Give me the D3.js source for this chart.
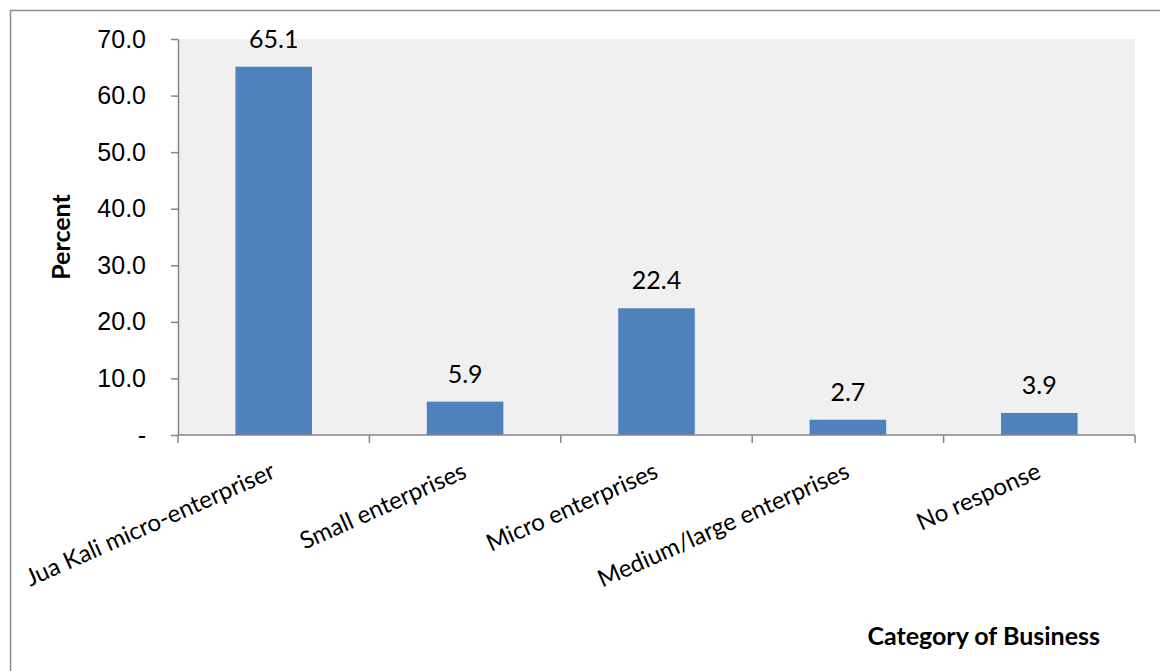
<!DOCTYPE html>
<html lang="en">
<head>
<meta charset="UTF-8"/>
<script src="https://cdnjs.cloudflare.com/ajax/libs/d3/7.8.5/d3.min.js"></script>
<style>
  body { margin: 0; background: #fff; }
  svg { display: block; font-family: Lato, 'Open Sans', sans-serif; }
  .axis path, .axis line { stroke: #868686; stroke-width: 1.5; }
  .axis text { font-size: 25px; fill: #000; }
  .axis text.cat { font-size: 24px; }
  text.value { font-size: 25px; fill: #000; }
  text.title { font-size: 25px; font-weight: 700; fill: #000; }
</style>
</head>
<body>
<svg width="1160" height="671"></svg>
<script>
// category of business vs percent
const categories = ['Jua Kali micro-enterpriser', 'Small enterprises', 'Micro enterprises', 'Medium/large enterprises', 'No response'];
const percents = [65.1, 5.9, 22.4, 2.7, 3.9];
const yTicks = [0, 10, 20, 30, 40, 50, 60, 70];

const svg = d3.select('svg');

// outer frame
svg.append('rect')
  .attr('x', 10.5).attr('y', 10.5)
  .attr('width', 1160).attr('height', 680)
  .attr('fill', 'none')
  .attr('stroke', '#8c8c8c')
  .attr('stroke-width', 1.5);

const plotLeft = 178, plotRight = 1135, plotTop = 39, plotBottom = 435;

const x = d3.scaleBand()
  .domain(categories)
  .range([plotLeft, plotRight])
  .paddingInner(0.6)
  .paddingOuter(0.3);

const xOuter = d3.scaleBand().domain(categories).range([plotLeft, plotRight]);

const y = d3.scaleLinear()
  .domain([0, 70])
  .range([plotBottom, plotTop]);

// plot background
svg.append('rect')
  .attr('x', plotLeft).attr('y', plotTop)
  .attr('width', plotRight - plotLeft).attr('height', plotBottom - plotTop)
  .attr('fill', '#f0f0f0');

svg.selectAll('rect.bar')
  .data(percents)
  .enter().append('rect')
  .attr('class', 'bar')
  .attr('x', (d, i) => x(categories[i]))
  .attr('y', d => y(d))
  .attr('width', x.bandwidth())
  .attr('height', d => y(0) - y(d))
  .attr('fill', '#4f81bd');

svg.selectAll('text.value')
  .data(percents)
  .enter().append('text')
  .attr('class', 'value')
  .attr('x', (d, i) => x(categories[i]) + x.bandwidth() / 2)
  .attr('y', d => y(d) - 19)
  .attr('text-anchor', 'middle')
  .text(d => d.toFixed(1));

// y axis
svg.append('g')
  .attr('class', 'axis')
  .attr('transform', `translate(${plotLeft},0)`)
  .call(d3.axisLeft(y)
    .tickValues(yTicks)
    .tickSize(7)
    .tickPadding(25)
    .tickSizeOuter(0)
    .tickFormat(d => d === 0 ? '-' : d.toFixed(1)));

// x axis with tick marks at category boundaries
const xAxis = svg.append('g')
  .attr('class', 'axis')
  .attr('transform', `translate(0,${plotBottom})`);

xAxis.append('line')
  .attr('x1', plotLeft).attr('x2', plotRight)
  .attr('y1', 0).attr('y2', 0);

const bounds = categories.map(c => xOuter(c)).concat([plotRight]);
xAxis.selectAll('line.tick')
  .data(bounds)
  .enter().append('line')
  .attr('class', 'tick')
  .attr('x1', d => d).attr('x2', d => d)
  .attr('y1', 0).attr('y2', 8);

xAxis.selectAll('text.cat')
  .data(categories)
  .enter().append('text')
  .attr('class', 'cat')
  .attr('text-anchor', 'end')
  .attr('transform', d => `translate(${xOuter(d) + xOuter.bandwidth() / 2 + 3},42) rotate(-24)`)
  .text(d => d);

svg.append('text')
  .attr('class', 'title')
  .attr('transform', `translate(70,${(plotTop + plotBottom) / 2}) rotate(-90)`)
  .attr('text-anchor', 'middle')
  .text('Percent');

svg.append('text')
  .attr('class', 'title')
  .attr('x', 1100)
  .attr('y', 645)
  .attr('text-anchor', 'end')
  .text('Category of Business');
</script>
</body>
</html>
